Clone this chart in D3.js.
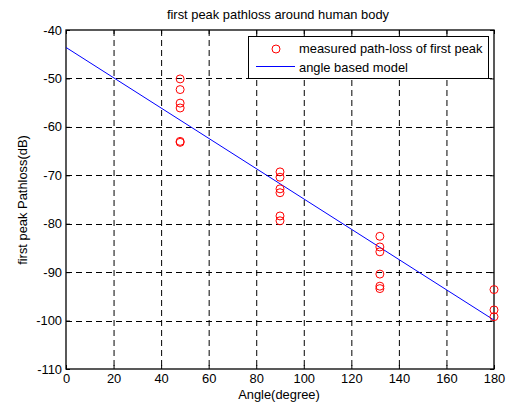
<!DOCTYPE html>
<html><head><meta charset="utf-8">
<script src="https://cdn.jsdelivr.net/npm/d3@7"></script>
<style>
html,body{margin:0;padding:0;background:#fff;}
svg{display:block;font-family:"Liberation Sans",Arial,sans-serif;}
</style></head>
<body>
<script>
const title = "first peak pathloss around human body";
const xLabel = "Angle(degree)";
const yLabel = "first peak Pathloss(dB)";
const xTicks = [0,20,40,60,80,100,120,140,160,180];
const yTicks = [-110,-100,-90,-80,-70,-60,-50,-40];
const measuredAngles = [48,48,48,48,48,48, 90,90,90,90,90,90, 132,132,132,132,132,132, 180,180,180];
const measuredLoss = [-50.1,-52.3,-55.1,-56.1,-63.0,-63.2,
  -69.3,-70.4,-72.8,-73.6,-78.4,-79.4,
  -82.6,-84.8,-85.8,-90.4,-92.9,-93.4,
  -93.6,-97.8,-99.2];
const modelAngles = [0,180];
const modelLoss = [-43.6,-99.9];
const legendLabels = ["measured path-loss of first peak","angle based model"];

const FS="12.9px";
const W=511,H=407;
const m={l:66,r:494,t:30,b:369};
const svg=d3.select("body").append("svg").attr("width",W).attr("height",H);
const x=d3.scaleLinear().domain([0,180]).range([m.l,m.r]);
const y=d3.scaleLinear().domain([-110,-40]).range([m.b,m.t]);

// grid
const g=svg.append("g");
g.selectAll(".gx").data(xTicks.slice(1,-1)).join("line")
 .attr("x1",d=>x(d)+0.5).attr("x2",d=>x(d)+0.5).attr("y1",m.t).attr("y2",m.b)
 .attr("stroke","#000").attr("stroke-width",1).attr("stroke-dasharray","6,4");
g.selectAll(".gy").data(yTicks.slice(1,-1)).join("line")
 .attr("y1",d=>Math.round(y(d))+0.5).attr("y2",d=>Math.round(y(d))+0.5).attr("x1",m.l).attr("x2",m.r)
 .attr("stroke","#000").attr("stroke-width",1).attr("stroke-dasharray","6,4");

// axes
const fmt=d=>String(d);
const ax=d3.axisBottom(x).tickValues(xTicks).tickSize(-4).tickPadding(5).tickFormat(fmt);
const axT=d3.axisTop(x).tickValues(xTicks).tickSize(-4).tickFormat("");
const ay=d3.axisLeft(y).tickValues(yTicks).tickSize(-4).tickPadding(4).tickFormat(fmt);
const ayR=d3.axisRight(y).tickValues(yTicks).tickSize(-4).tickFormat("");
function style(sel){sel.select(".domain").remove();sel.selectAll("line").attr("stroke","#000");
 sel.selectAll("text").attr("fill","#000").attr("font-size",FS).attr("font-family","Liberation Sans, Arial, sans-serif");}
svg.append("g").attr("transform",`translate(0,${m.b})`).call(ax).call(style);
svg.append("g").attr("transform",`translate(0,${m.t})`).call(axT).call(style);
svg.append("g").attr("transform",`translate(${m.l},0)`).call(ay).call(style);
svg.append("g").attr("transform",`translate(${m.r},0)`).call(ayR).call(style);
svg.append("rect").attr("x",m.l).attr("y",m.t).attr("width",m.r-m.l).attr("height",m.b-m.t)
 .attr("fill","none").attr("stroke","#000").attr("stroke-width",1.3);

// model line
const modelData=modelAngles.map((a,i)=>[a,modelLoss[i]]);
svg.append("path").datum(modelData)
 .attr("d",d3.line().x(d=>x(d[0])).y(d=>y(d[1])))
 .attr("fill","none").attr("stroke","#0000ff").attr("stroke-width",1);

// points
svg.selectAll(".pt").data(measuredAngles.map((a,i)=>[a,measuredLoss[i]])).join("circle")
 .attr("cx",d=>x(d[0])).attr("cy",d=>y(d[1])).attr("r",4)
 .attr("fill","none").attr("stroke","#ff0000").attr("stroke-width",1);

// legend
const lg=svg.append("g");
lg.append("rect").attr("x",248.5).attr("y",36.5).attr("width",240).attr("height",42)
 .attr("fill","#fff").attr("stroke","#000").attr("stroke-width",1);
lg.append("circle").attr("cx",276).attr("cy",49).attr("r",4).attr("fill","none").attr("stroke","#ff0000");
lg.append("line").attr("x1",256).attr("x2",295).attr("y1",66.5).attr("y2",66.5).attr("stroke","#0000ff");
lg.selectAll(".lt").data(legendLabels).join("text")
 .attr("x",299).attr("y",(d,i)=>53+i*19).text(d=>d)
 .attr("font-size",FS).attr("fill","#000");

// labels
svg.append("text").attr("x",278).attr("y",18.5).attr("text-anchor","middle").attr("font-size",FS).text(title);
svg.append("text").attr("x",279).attr("y",398.5).attr("text-anchor","middle").attr("font-size",FS).text(xLabel);
svg.append("text").attr("transform","translate(27,200) rotate(-90)").attr("text-anchor","middle").attr("font-size",FS).text(yLabel);
</script>
</body></html>
